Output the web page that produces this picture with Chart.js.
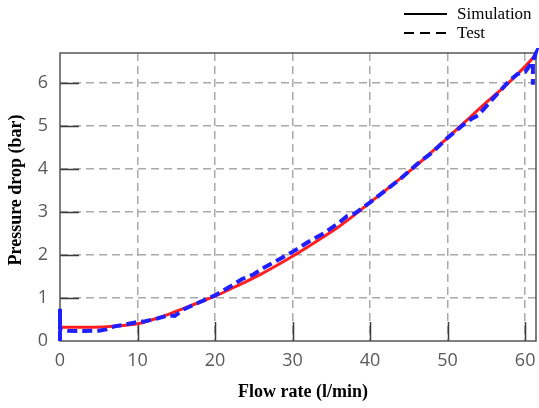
<!DOCTYPE html>
<html>
<head>
<meta charset="utf-8">
<script src="https://cdn.jsdelivr.net/npm/chart.js@4"></script>
<style>
  html, body { margin: 0; padding: 0; background: #fff; }
  canvas { display: block; }
</style>
</head>
<body>
<canvas id="c" width="539" height="408"></canvas>
<script>
// ---- data ----
const simX = [0, 2, 4, 6, 8, 10, 12, 14, 16, 18, 20, 22, 24, 26, 28, 30, 32, 34, 36, 38, 40, 42, 44, 46, 48, 50, 52, 54, 56, 58, 60, 61.4];
const simY = [0.32, 0.32, 0.32, 0.33, 0.36, 0.40, 0.50, 0.62, 0.76, 0.90, 1.04, 1.21, 1.38, 1.56, 1.76, 1.97, 2.19, 2.42, 2.66, 2.93, 3.22, 3.50, 3.79, 4.08, 4.40, 4.72, 5.05, 5.38, 5.70, 6.02, 6.38, 6.65];
const testX = [0, 0, 0, 1, 3, 5, 6, 7, 8, 9.7, 11, 12.5, 14, 14.8, 16, 18, 20, 22, 23.5, 25, 26, 28, 30, 32, 34, 36, 37, 38, 40, 42, 44, 46, 48, 50, 52, 53, 54, 56, 58, 59, 60, 60.6, 61.3, 61.0, 61.0];
const testY = [0, 0.75, 0.28, 0.24, 0.23, 0.24, 0.27, 0.34, 0.37, 0.43, 0.46, 0.52, 0.60, 0.58, 0.74, 0.90, 1.06, 1.27, 1.44, 1.55, 1.67, 1.87, 2.07, 2.30, 2.50, 2.75, 2.90, 2.96, 3.22, 3.50, 3.78, 4.10, 4.38, 4.72, 5.02, 5.15, 5.25, 5.66, 6.05, 6.20, 6.25, 6.40, 6.65, 6.45, 5.95];
const xTicks = [0, 10, 20, 30, 40, 50, 60];
const yTicks = [0, 1, 2, 3, 4, 5, 6];
const xTitle = 'Flow rate (l/min)';
const yTitle = 'Pressure drop (bar)';
const legendLabels = ['Simulation', 'Test'];

const toPts = (xs, ys) => xs.map((x, i) => ({ x: x, y: ys[i] }));

const decorPlugin = {
  id: 'decor',
  beforeDatasetsDraw(chart) {
    const { ctx, chartArea: a, scales } = chart;
    ctx.save();
    // inward tick marks on left and bottom
    ctx.strokeStyle = '#3a3a3a';
    ctx.lineWidth = 1.5;
    const tl = 19;
    xTicks.forEach(v => {
      if (v === 0) return;
      const px = Math.round(scales.x.getPixelForValue(v)) + 0.5;
      ctx.beginPath(); ctx.moveTo(px, a.bottom); ctx.lineTo(px, a.bottom - tl); ctx.stroke();
    });
    yTicks.forEach(v => {
      if (v === 0) return;
      const py = Math.round(scales.y.getPixelForValue(v)) + 0.5;
      ctx.beginPath(); ctx.moveTo(a.left, py); ctx.lineTo(a.left + tl, py); ctx.stroke();
    });
    // frame
    ctx.strokeStyle = '#555';
    ctx.lineWidth = 1.5;
    ctx.strokeRect(a.left, a.top, a.right - a.left, a.bottom - a.top);
    ctx.restore();
  },
  afterDraw(chart) {
    const { ctx } = chart;
    ctx.save();
    ctx.fillStyle = '#000';
    // axis titles
    ctx.font = 'bold 18px "Liberation Serif", "Times New Roman", serif';
    ctx.textAlign = 'center';
    ctx.textBaseline = 'middle';
    ctx.fillText(xTitle, 303, 392);
    ctx.save();
    ctx.translate(16, 190);
    ctx.rotate(-Math.PI / 2);
    ctx.fillText(yTitle, 0, 0);
    ctx.restore();
    // legend
    ctx.strokeStyle = '#000';
    ctx.lineWidth = 2;
    ctx.beginPath(); ctx.moveTo(404, 14); ctx.lineTo(447, 14); ctx.stroke();
    ctx.setLineDash([10, 6]);
    ctx.beginPath(); ctx.moveTo(404, 33); ctx.lineTo(447, 33); ctx.stroke();
    ctx.setLineDash([]);
    ctx.font = '17px "Liberation Serif", "Times New Roman", serif';
    ctx.textAlign = 'left';
    ctx.fillText(legendLabels[0], 457, 15);
    ctx.fillText(legendLabels[1], 457, 34);
    ctx.restore();
  }
};

const gridColor = c => (c.tick && c.tick.value === 0) ? 'rgba(0,0,0,0)' : '#a9a9a9';
const tickFont = { family: '"Open Sans", "DejaVu Sans", sans-serif', size: 18 };

new Chart(document.getElementById('c'), {
  type: 'scatter',
  data: {
    datasets: [
      {
        label: legendLabels[1],
        data: toPts(testX, testY),
        showLine: true,
        borderColor: '#1f1fff',
        borderWidth: 4,
        borderDash: [10, 5],
        pointRadius: 0,
        tension: 0,
        clip: 5,
        order: 0
      },
      {
        label: legendLabels[0],
        data: toPts(simX, simY),
        showLine: true,
        borderColor: '#ff1f1f',
        borderWidth: 3,
        pointRadius: 0,
        tension: 0.3,
        clip: 5,
        order: 1
      }
    ]
  },
  options: {
    responsive: false,
    animation: false,
    events: [],
    layout: { padding: { top: 53, right: 3, left: 0, bottom: 0 } },
    plugins: { legend: { display: false }, tooltip: { enabled: false } },
    scales: {
      x: {
        type: 'linear',
        min: 0,
        max: 61.4,
        afterBuildTicks: s => { s.ticks = xTicks.map(v => ({ value: v })); },
        afterFit: s => { s.height = 67; s.paddingLeft = 0; s.paddingRight = 0; },
        grid: { color: gridColor, lineWidth: 1.5, drawTicks: false },
        border: { display: false, dash: [8, 5] },
        ticks: { font: tickFont, color: '#5a5a5a', padding: 9, maxRotation: 0, autoSkip: false }
      },
      y: {
        type: 'linear',
        min: 0,
        max: 6.69,
        afterBuildTicks: s => { s.ticks = yTicks.map(v => ({ value: v })); },
        afterFit: s => { s.width = 60; s.paddingTop = 0; s.paddingBottom = 0; },
        grid: { color: gridColor, lineWidth: 1.5, drawTicks: false },
        border: { display: false, dash: [8, 5] },
        ticks: { font: tickFont, color: '#5a5a5a', padding: 12, autoSkip: false }
      }
    }
  },
  plugins: [decorPlugin]
});
</script>
</body>
</html>
